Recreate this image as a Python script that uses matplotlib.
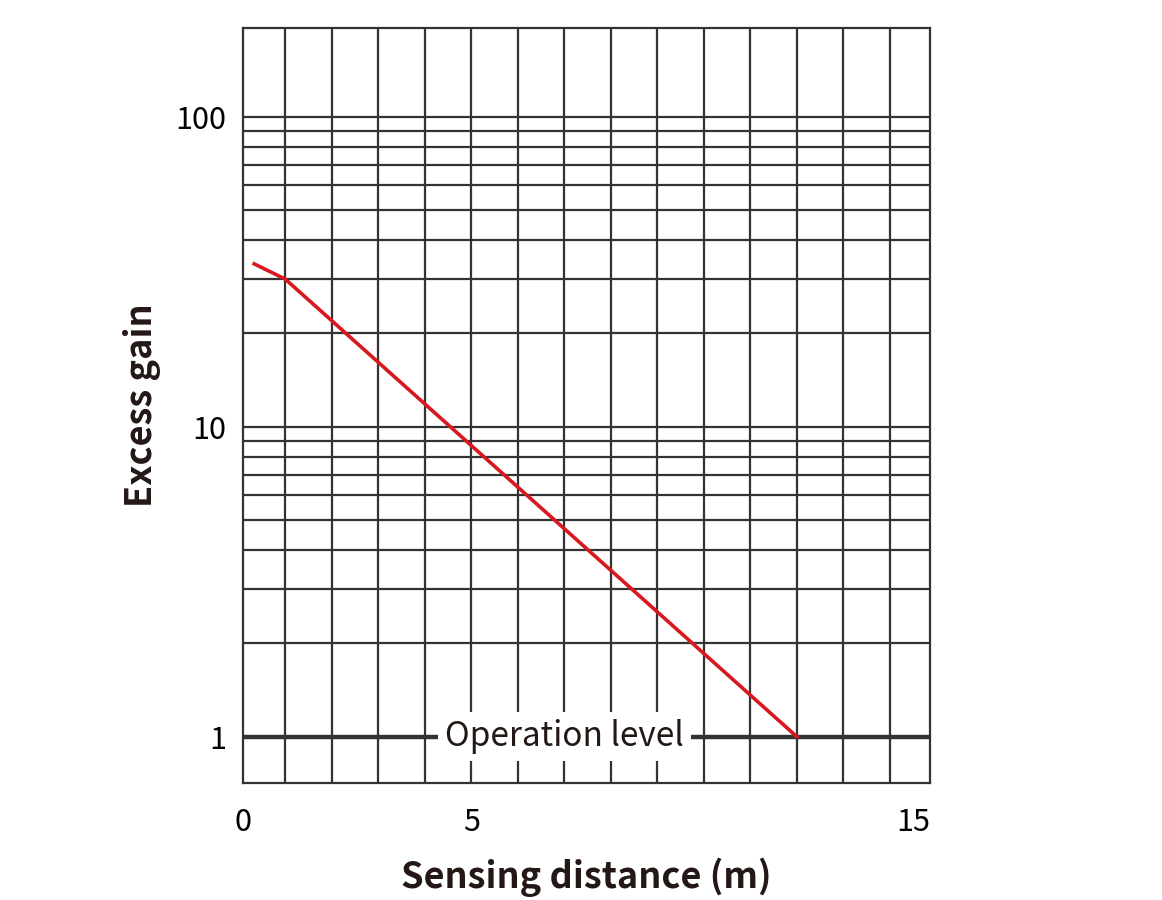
import matplotlib
matplotlib.use("Agg")
from matplotlib import pyplot as plt
from matplotlib.ticker import FixedLocator, NullFormatter, NullLocator

plt.rcParams['font.family'] = ['Noto Sans CJK JP', 'DejaVu Sans']

# sensing distance (m) vs excess gain
distance = [0.33, 1.0, 12.0]
gain = [33.5, 29.9, 1.0]

x_grid = list(range(1, 15))
x_labels = ["0", "5", "15"]
y_ticks = [1, 10, 100]
y_grid = [2, 3, 4, 5, 6, 7, 8, 9, 10, 20, 30, 40, 50, 60, 70, 80, 90, 100]

op_level = 1.0
op_label = "Operation level"

gridc = '#333333'
x_lo, x_hi = 0.09, 14.86

fig = plt.figure(figsize=(11.62, 9), dpi=100)
ax = fig.add_axes([0.2091, 0.1297, 0.8003 - 0.2091, 0.9689 - 0.1297])

ax.set_yscale('log')
ax.set_xlim(x_lo, x_hi)
ax.set_ylim(0.708, 193)

for x in x_grid:
    ax.axvline(x, color=gridc, lw=1.6, zorder=1)
for y in y_grid:
    ax.axhline(y, color=gridc, lw=1.6, zorder=1)

ax.axhline(op_level, color=gridc, lw=3.2, zorder=2)
ax.text(7.0, op_level, op_label, fontsize=24, ha='center', va='center',
        color='#231815', zorder=3,
        bbox=dict(facecolor='white', edgecolor='none', pad=5))

ax.plot(distance, gain, color='#d7191f', lw=2.6, zorder=4)

for s in ax.spines.values():
    s.set_color(gridc)
    s.set_linewidth(1.6)

# the drawn grid starts a little inside the frame; labels sit at the frame edges
ax.xaxis.set_major_locator(FixedLocator([x_lo, 5, x_hi]))
ax.yaxis.set_major_locator(FixedLocator(y_ticks))
ax.yaxis.set_minor_locator(NullLocator())
ax.yaxis.set_minor_formatter(NullFormatter())
ax.set_xticklabels(x_labels)
ax.set_yticklabels([str(t) for t in y_ticks])
ax.tick_params(length=0, labelsize=22, colors='black', pad=12)
ax.tick_params(axis='x', pad=17)
ax.get_xticklabels()[-1].set_horizontalalignment('right')

ax.set_xlabel("Sensing distance (m)", fontsize=26, fontweight='bold',
              color='#231815', labelpad=14)
ax.set_ylabel("Excess gain", fontsize=26, fontweight='bold',
              color='#231815', labelpad=10)

fig.savefig("out.png", dpi=100)
